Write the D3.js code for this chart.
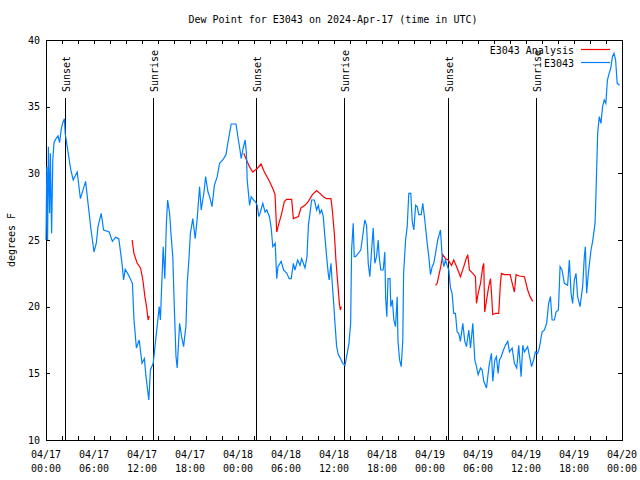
<!DOCTYPE html>
<html>
<head>
<meta charset="utf-8">
<script src="https://cdn.jsdelivr.net/npm/d3@7"></script>
<style>
  html, body { margin: 0; padding: 0; background: #fff; }
  svg { display: block; }
  text { font-family: "DejaVu Sans Mono", "Liberation Mono", monospace; font-size: 10px; fill: #000; }
</style>
</head>
<body>
<svg id="chart" width="640" height="480"></svg>
<script>
// ---- Data (hours since 2024-04-17 00:00 UTC) ----
const title = "Dew Point for E3043 on 2024-Apr-17 (time in UTC)";
const yLabel = "degrees F";
const seriesNames = ["E3043 Analysis", "E3043"];

const obsHours = [0,0.1,0.2,0.3,0.45,0.55,0.7,0.85,1.0,1.25,1.5,1.7,1.9,2.1,2.3,2.4,2.65,3.1,3.4,3.9,4.3,4.95,5.3,5.6,6.0,6.3,6.5,6.9,7.2,7.9,8.3,8.7,9.1,9.5,9.7,9.9,10.3,10.8,11.0,11.3,11.65,12.0,12.3,12.5,12.85,13.05,13.4,13.8,14.15,14.3,14.65,14.85,15.05,15.2,15.45,15.65,15.85,16.05,16.25,16.4,16.7,16.95,17.2,17.5,17.65,17.85,18.05,18.35,18.65,18.9,19.2,19.4,19.75,19.95,20.25,20.45,20.75,21.05,21.4,21.7,22.1,22.5,22.72,23.15,23.75,24.05,24.25,24.4,24.65,24.9,25.05,25.15,25.45,25.65,25.95,26.15,26.4,26.6,26.8,27.1,27.38,27.6,27.93,28.15,28.35,28.65,28.84,29.0,29.4,29.7,30.1,30.4,30.65,30.92,31.12,31.46,31.75,31.96,32.37,32.62,32.8,33.0,33.2,33.55,33.83,34.04,34.24,34.45,34.66,34.86,35.08,35.28,35.4,35.62,35.78,35.96,36.12,36.33,36.54,36.83,37.08,37.37,37.58,37.87,38.08,38.2,38.4,38.53,38.7,39.03,39.35,39.52,39.85,40.07,40.28,40.48,40.7,40.9,41.1,41.32,41.53,41.65,41.85,42.15,42.35,42.45,42.6,42.75,43.0,43.1,43.3,43.48,43.69,43.9,44.0,44.2,44.4,44.6,44.7,44.95,45.15,45.35,45.6,45.78,45.98,46.2,46.4,46.6,46.9,47.1,47.35,47.65,47.85,48.06,48.27,48.47,48.69,48.97,49.19,49.31,49.52,49.72,49.94,50.14,50.35,50.56,50.76,50.97,51.18,51.39,51.59,51.8,52.1,52.35,52.56,52.85,53.06,53.35,53.6,53.81,54.02,54.31,54.52,54.72,55.06,55.27,55.43,55.68,55.85,56.1,56.3,56.52,56.68,56.9,57.18,57.43,57.72,57.93,58.27,58.55,58.84,59.09,59.39,59.6,59.8,60.2,60.5,60.7,60.95,61.17,61.45,61.67,62.0,62.3,62.58,62.83,63.05,63.26,63.55,63.76,64.05,64.26,64.5,64.8,65.2,65.42,65.63,65.83,66.04,66.25,66.45,66.75,67.08,67.29,67.42,67.58,67.79,68.13,68.33,68.63,68.75,68.96,69.16,69.37,69.57,69.78,69.98,70.18,70.39,70.6,70.8,71.0,71.2,71.4,71.7];
const obsValues = [25.0,30.5,25.0,32.0,27.0,31.5,25.5,31.0,32.3,32.6,32.8,32.3,33.3,33.8,34.1,33.0,32.0,30.25,29.5,30.1,28.1,29.4,27.5,25.9,24.1,24.8,26.0,27.0,25.75,25.6,24.9,25.2,25.1,23.25,22.0,22.8,22.4,21.75,19.0,16.9,17.5,15.75,16.1,14.75,13.0,15.25,15.75,18.0,20.0,19.0,24.5,22.1,26.25,28.0,27.0,25.25,23.75,19.75,16.25,15.4,18.75,17.75,17.0,18.6,21.75,23.4,25.5,26.6,25.1,26.6,29.0,27.25,28.6,29.75,28.6,28.25,27.5,29.1,29.75,30.75,31.0,31.4,32.25,33.7,33.7,32.5,31.75,31.1,31.9,32.5,31.5,29.5,27.6,28.25,28.0,27.9,27.6,26.75,27.1,27.75,27.1,27.25,26.75,25.9,24.5,24.75,22.1,23.0,23.4,22.75,22.5,22.1,22.1,23.25,22.75,23.5,23.1,23.6,22.9,23.75,26.1,27.0,28.0,28.0,27.25,27.6,27.0,27.25,26.75,25.25,23.75,22.5,22.0,23.25,21.75,20.25,18.75,17.0,16.4,16.1,15.75,15.6,16.25,17.25,18.75,24.25,26.25,23.75,23.75,24.0,24.25,25.0,26.5,26.1,23.25,22.25,24.25,25.9,23.25,23.75,25.0,23.75,22.75,22.75,24.1,20.75,19.25,22.1,22.1,20.0,20.5,19.0,18.5,20.75,17.4,16.0,15.5,17.5,22.5,25.0,26.0,28.5,28.5,26.4,25.75,27.6,27.5,26.9,26.9,27.75,26.5,24.75,23.75,22.4,23.0,23.25,24.0,25.0,25.5,25.75,23.75,23.0,23.5,23.1,22.75,21.4,21.0,19.5,19.5,18.1,18.0,17.4,18.75,17.4,17.0,18.25,16.9,18.75,16.0,15.5,14.9,15.4,15.25,14.4,13.9,15.0,15.75,16.5,14.4,16.0,16.25,15.0,16.0,16.25,16.75,17.1,17.4,16.6,16.9,15.75,15.4,17.1,14.75,17.1,16.6,17.0,16.1,15.5,16.0,16.6,16.5,16.9,18.1,18.25,18.75,20.25,20.75,19.0,19.0,19.6,19.75,23.0,22.75,21.75,21.6,23.5,21.0,20.25,22.0,22.5,20.75,20.0,21.5,23.75,24.5,21.0,22.5,24.25,24.9,26.25,28.5,33.0,34.25,33.75,35.0,35.5,35.25,37.0,37.5,37.9,38.75,39.0,38.5,36.75,36.6];

// Analysis series: null separates the three runs
const analysisHours = [10.77,10.99,11.4,11.82,12.11,12.36,12.57,12.77,12.9,null,
  24.72,25.0,25.43,25.84,26.47,26.88,27.3,27.93,28.43,28.63,28.84,29.05,29.46,29.8,30.09,30.71,30.92,31.55,31.87,32.37,32.8,33.3,33.83,34.24,34.67,35.08,35.62,35.79,36.04,36.24,36.45,36.67,36.79,36.92,null,
  48.69,48.9,49.31,49.6,49.94,50.27,50.69,50.97,51.39,51.8,52.22,52.52,52.72,52.93,53.35,53.68,53.81,54.02,54.31,54.6,54.72,54.84,55.14,55.34,55.56,55.68,55.84,56.18,56.59,56.8,56.93,57.3,58.02,58.34,58.55,58.76,59.18,59.8,60.21,60.51,60.84];
const analysisValues = [25.0,24.0,23.25,22.9,22.0,20.75,20.0,19.0,19.3,null,
  31.5,31.1,30.5,30.1,30.4,30.7,30.1,29.4,28.75,28.4,25.6,26.1,27.0,27.9,28.05,28.05,26.6,26.75,27.4,27.6,27.9,28.4,28.7,28.5,28.25,28.1,28.1,27.25,25.5,23.5,21.9,20.25,19.75,20.0,null,
  21.6,21.75,22.9,23.9,23.6,23.5,23.1,23.5,22.9,22.25,23.0,23.6,23.9,22.75,22.5,22.25,20.25,21.0,21.75,23.0,23.25,19.6,20.75,21.5,22.1,21.1,19.4,19.5,19.5,21.75,22.5,22.4,22.4,21.6,21.1,22.4,22.3,22.25,21.25,20.75,20.4];

const sunEventHours = [2.37, 13.36, 26.2, 37.2, 50.2, 61.2];
const sunEventLabels = ["Sunset", "Sunrise", "Sunset", "Sunrise", "Sunset", "Sunrise"];

const yTicks = [10, 15, 20, 25, 30, 35, 40];
const minorTickHours = d3.range(0, 73, 2);
const labelTickHours = d3.range(0, 73, 6);

// ---- Layout ----
const base = Date.UTC(2024, 3, 17, 0, 0);
const toDate = h => new Date(base + h * 3600e3);
const L = 46, R = 622, T = 40, B = 440;

const svg = d3.select("#chart");
const x = d3.scaleUtc().domain([toDate(0), toDate(72)]).range([L, R]);
const y = d3.scaleLinear().domain([10, 40]).range([B, T]);

// title
svg.append("text").attr("x", 333).attr("y", 23).attr("text-anchor", "middle").text(title);
// y label
svg.append("text").attr("transform", "translate(15,240) rotate(-90)").attr("text-anchor", "middle").text(yLabel);

// axes (ticks inward)
const gx = svg.append("g").attr("transform", `translate(0,${B})`)
  .call(d3.axisBottom(x).tickValues(minorTickHours.map(toDate)).tickSizeInner(-4).tickSizeOuter(0).tickFormat(""));
const gxt = svg.append("g").attr("transform", `translate(0,${T})`)
  .call(d3.axisTop(x).tickValues(minorTickHours.map(toDate)).tickSizeInner(-4).tickSizeOuter(0).tickFormat(""));
const gy = svg.append("g").attr("transform", `translate(${L},0)`)
  .call(d3.axisLeft(y).tickValues(yTicks).tickSizeInner(-4).tickSizeOuter(0).tickPadding(6).tickFormat(d3.format("d")));
const gyr = svg.append("g").attr("transform", `translate(${R},0)`)
  .call(d3.axisRight(y).tickValues(yTicks).tickSizeInner(-4).tickSizeOuter(0).tickFormat(""));
[gx, gxt, gy, gyr].forEach(g => {
  g.selectAll("path.domain").remove();
  g.selectAll("line").attr("stroke", "#000").attr("shape-rendering", "crispEdges");
  g.selectAll("text").style("font-family", "DejaVu Sans Mono, monospace").style("font-size", "10px").attr("fill", "#000");
});

// x labels (two lines)
const fmtD = d3.utcFormat("%m/%d"), fmtT = d3.utcFormat("%H:%M");
const xl = svg.append("g").selectAll("g").data(labelTickHours).join("g")
  .attr("transform", h => `translate(${x(toDate(h))},0)`);
xl.append("text").attr("y", 458).attr("text-anchor", "middle").text(h => fmtD(toDate(h)));
xl.append("text").attr("y", 472).attr("text-anchor", "middle").text(h => fmtT(toDate(h)));

// sun events
const sun = svg.append("g").selectAll("g").data(sunEventHours).join("g")
  .attr("transform", h => `translate(${Math.round(x(toDate(h))) + 0.5},0)`);
sun.append("line").attr("y1", 98).attr("y2", B).attr("stroke", "#000").attr("stroke-width", 1);
sun.append("text").attr("transform", "translate(4,92) rotate(-90)").text((h, i) => sunEventLabels[i]);

// frame
svg.append("rect").attr("x", L + 0.5).attr("y", T + 0.5).attr("width", R - L).attr("height", B - T)
  .attr("fill", "none").attr("stroke", "#000").attr("stroke-width", 1);

// lines
const obs = obsHours.map((h, i) => ({ t: toDate(h), v: obsValues[i] }));
const ana = analysisHours.map((h, i) => ({ t: h == null ? null : toDate(h), v: analysisValues[i] }));
const line = d3.line().defined(d => d.v != null && d.t != null).x(d => x(d.t)).y(d => y(d.v));
svg.append("path").datum(ana).attr("d", line).attr("fill", "none").attr("stroke", "#ff0000").attr("stroke-width", 1.2);
svg.append("path").datum(obs).attr("d", line).attr("fill", "none").attr("stroke", "#0080ff").attr("stroke-width", 1.2);

// legend
const legColors = ["#ff0000", "#0080ff"];
const lg = svg.append("g").selectAll("g").data(seriesNames).join("g")
  .attr("transform", (d, i) => `translate(0,${49.5 + i * 13})`);
lg.append("text").attr("x", 574).attr("y", 4).attr("text-anchor", "end").text(d => d);
lg.append("line").attr("x1", 581).attr("x2", 610).attr("stroke", (d, i) => legColors[i]).attr("stroke-width", 1.2);
</script>
</body>
</html>
